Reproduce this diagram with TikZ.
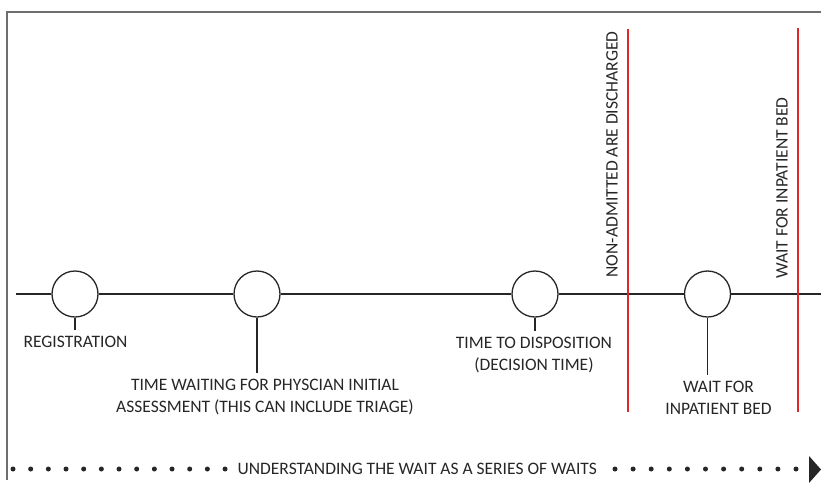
\documentclass[tikz,border=0pt]{standalone}
\usepackage{fontspec}
\setmainfont{Carlito}
\definecolor{ink}{HTML}{262626}
\definecolor{framegray}{HTML}{6E6E6E}
\definecolor{cutoff}{HTML}{E0262B}
\tikzset{
  stage/.style={circle, draw=ink, line width=1.3pt, fill=white, minimum size=46pt, inner sep=0pt},
  steplabel/.style={anchor=north, align=center, inner sep=0pt, outer sep=6pt, text=ink},
  sidelabel/.style={rotate=90, anchor=west, inner sep=0pt, text=ink},
  waitdot/.style={fill=ink}
}
\begin{document}
\begin{tikzpicture}[x=1pt, y=-1pt, font=\fontsize{17.5}{22}\selectfont, line width=1.3pt]
    \useasboundingbox (0,0) rectangle (821,483);

    % Frame
    \draw[framegray, line width=1.5pt] (821,12) -- (7,12) -- (7,480);

    % Stages
    \node[stage] (reg)  at (75,294) {};
    \node[stage] (phys) at (257,294) {};
    \node[stage] (disp) at (535,294) {};
    \node[stage] (bed)  at (707.5,294) {};
    \coordinate (tlstart) at (16,294);
    \coordinate (tlend) at (821,294);

    % Timeline
    \draw[ink] (tlstart) -- (reg.west);
    \draw[ink] (reg.east) -- (phys.west);
    \draw[ink] (phys.east) -- (disp.west);
    \draw[ink] (disp.east) -- (bed.west);
    \draw[ink] (bed.east) -- (tlend);

    % Stage labels
    \node[steplabel] (reglab)  at (75.5,330) {REGISTRATION};
    \node[steplabel] (physlab) at (265,373) {TIME WAITING FOR PHYSCIAN INITIAL\\ASSESSMENT (THIS CAN INCLUDE TRIAGE)};
    \node[steplabel] (displab) at (534,331) {TIME TO DISPOSITION\\(DECISION TIME)};
    \node[steplabel] (bedlab)  at (718.5,375) {WAIT FOR\\INPATIENT BED};

    % Stems
    \draw[ink] (reg.south) -- (reg.south |- reglab.north);
    \draw[ink] (phys.south) -- (phys.south |- physlab.north);
    \draw[ink] (disp.south) -- (disp.south |- displab.north);
    \draw[ink] (bed.south) -- (bed.south |- bedlab.north);

    % Cut-off lines
    \draw[cutoff] (628,29) -- (628,412);
    \draw[cutoff] (798,28) -- (798,412);
    \node[sidelabel] (discharged) at (612,278) {NON-ADMITTED ARE DISCHARGED};
    \node[sidelabel] (inpatient)  at (782,279) {WAIT FOR INPATIENT BED};

    % Series of waits
    \node[anchor=west, inner sep=0pt, text=ink] (waits) at (237,469) {UNDERSTANDING THE WAIT AS A SERIES OF WAITS};
    \foreach \i in {0,...,12}
        \fill[waitdot] (13+17.67*\i,469) circle[radius=2.5pt];
    \foreach \i in {0,...,10}
        \fill[waitdot] (615+18.1*\i,469) circle[radius=2.5pt];
    \fill[ink] (809,456) -- (821,469.5) -- (809,483) -- cycle;
\end{tikzpicture}
\end{document}
